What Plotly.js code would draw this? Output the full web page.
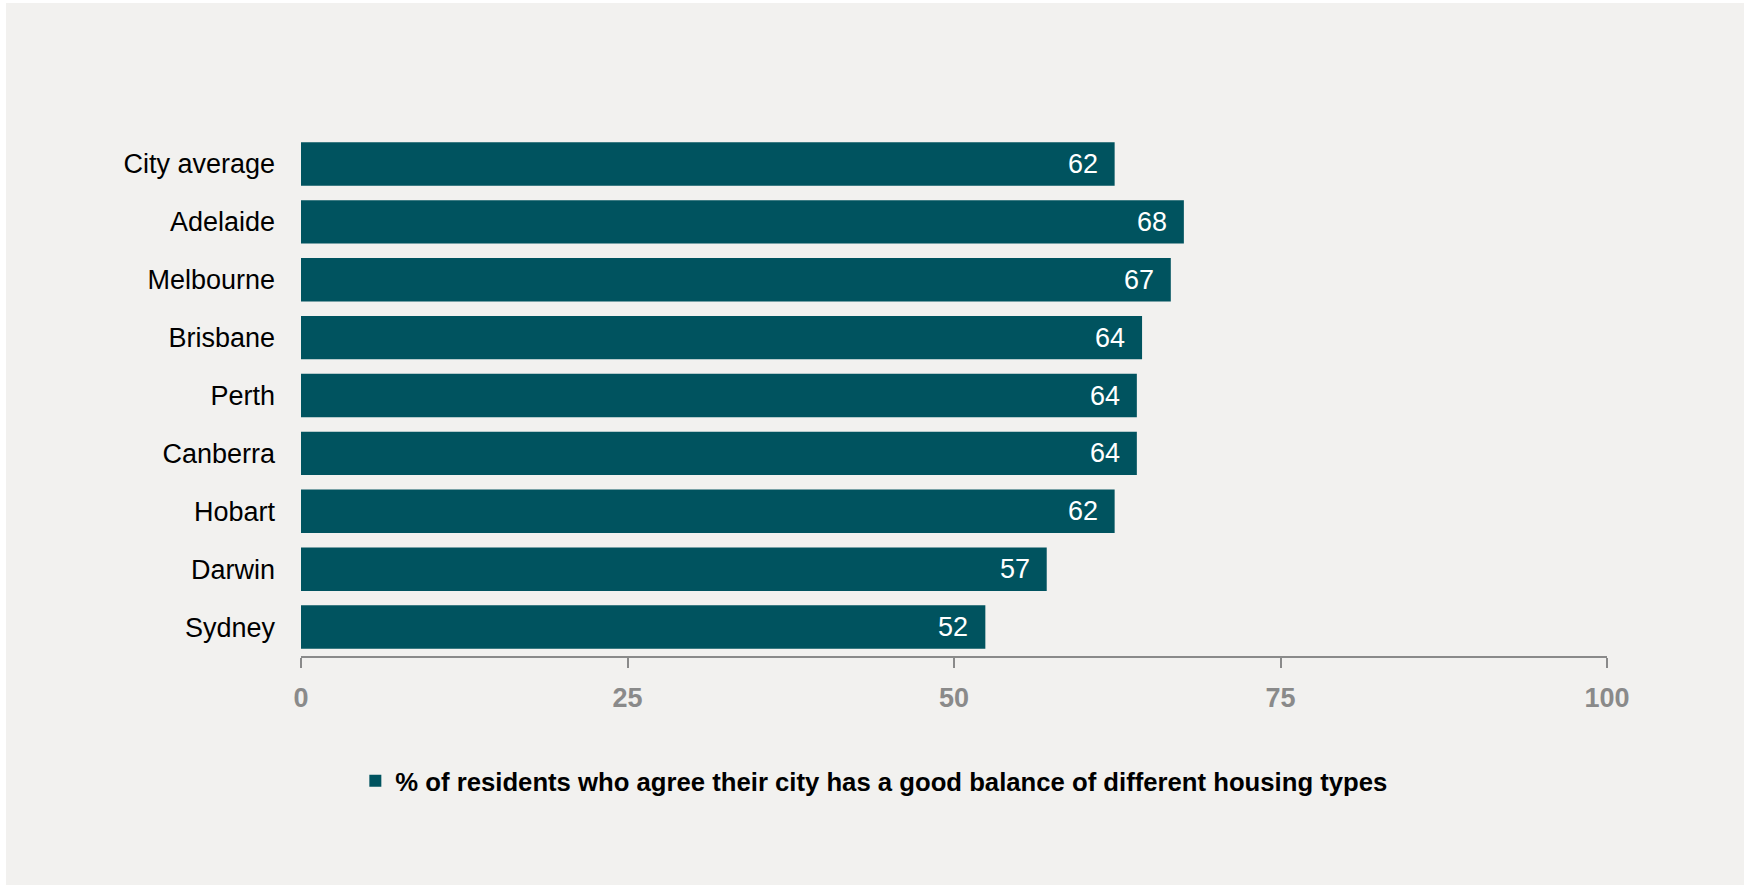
<!DOCTYPE html>
<html>
<head>
<meta charset="utf-8">
<script src="https://cdn.plot.ly/plotly-3.0.1.min.js"></script>
<style>
  html, body { margin: 0; padding: 0; background: #ffffff; }
  #chart { position: absolute; left: 6px; top: 3px; width: 1738px; height: 882px; }
</style>
</head>
<body>
<div id="chart"></div>
<script>
// Data
const cities = ["City average", "Adelaide", "Melbourne", "Brisbane", "Perth", "Canberra", "Hobart", "Darwin", "Sydney"];
const agreePct = [62.3, 67.6, 66.6, 64.4, 64.0, 64.0, 62.3, 57.1, 52.4];
const agreeLabels = ["62", "68", "67", "64", "64", "64", "62", "57", "52"];
const xTickVals = [0, 25, 50, 75, 100];
const seriesName = "% of residents who agree their city has a good balance of different housing types";

const barColor = "#00535F";
const bg = "#F2F1EF";

const trace = {
  type: "bar",
  orientation: "h",
  y: cities,
  x: agreePct,
  name: seriesName,
  marker: { color: barColor },
  hoverinfo: "y+x",
  showlegend: true
};

const annotations = cities.map((c, i) => ({
  x: agreePct[i],
  y: c,
  xref: "x",
  yref: "y",
  text: agreeLabels[i],
  showarrow: false,
  xanchor: "right",
  yanchor: "middle",
  xshift: -15,
  font: { family: "Liberation Sans, Arial, sans-serif", size: 27, color: "#ffffff" }
}));

const layout = {
  width: 1738,
  height: 882,
  paper_bgcolor: bg,
  plot_bgcolor: bg,
  margin: { l: 295, r: 137, t: 132, b: 229 },
  bargap: 0.25,
  showlegend: true,
  legend: {
    orientation: "h",
    xref: "container",
    yref: "container",
    x: 0.201,
    y: 0.118,
    xanchor: "left",
    yanchor: "middle",
    bgcolor: "rgba(0,0,0,0)",
    font: { family: "Liberation Sans, Arial, sans-serif", size: 25.7, color: "#000000", weight: "bold" }
  },
  xaxis: {
    range: [0, 100],
    tickvals: xTickVals,
    ticktext: xTickVals.map(String),
    showgrid: false,
    zeroline: false,
    showline: true,
    linecolor: "#8A8A8A",
    linewidth: 2,
    ticks: "outside",
    ticklen: 10,
    tickwidth: 2,
    tickcolor: "#8A8A8A",
    ticklabelstandoff: 7,
    tickfont: { family: "Liberation Sans, Arial, sans-serif", size: 27, color: "#8A8A8A", weight: "bold" },
    fixedrange: true
  },
  yaxis: {
    type: "category",
    categoryorder: "array",
    categoryarray: cities,
    range: [8.5, -0.5],
    showgrid: false,
    zeroline: false,
    showline: false,
    ticks: "",
    ticklabelstandoff: 25,
    tickfont: { family: "Liberation Sans, Arial, sans-serif", size: 27, color: "#000000" },
    fixedrange: true
  },
  annotations: annotations
};

Plotly.newPlot("chart", [trace], layout, { displayModeBar: false, staticPlot: false });
</script>
</body>
</html>
